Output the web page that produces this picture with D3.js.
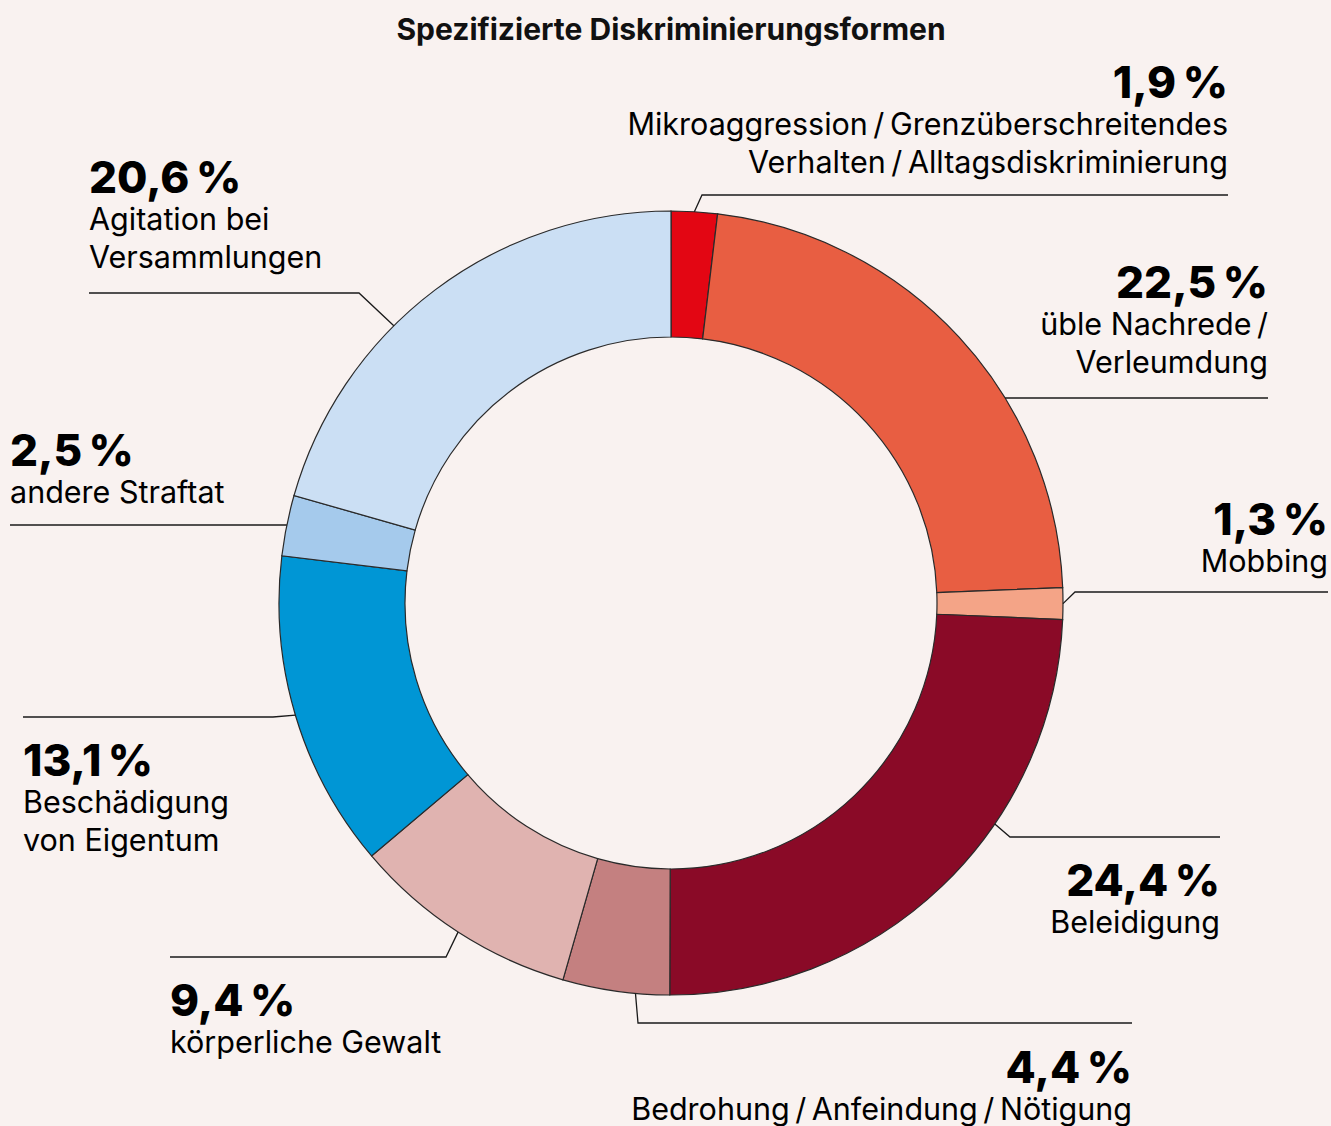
<!DOCTYPE html>
<html>
<head>
<meta charset="utf-8">
<title>Spezifizierte Diskriminierungsformen</title>
<script src="https://cdn.jsdelivr.net/npm/d3@7"></script>
<style>
  body { margin: 0; background: #f9f2f0; }
  svg { display: block; }
  .num { font-family: Inter, "Liberation Sans", sans-serif; font-weight: 800; font-size: 44px; fill: #000; }
  .lbl { font-family: Inter, "Liberation Sans", sans-serif; font-weight: 400; font-size: 30.5px; fill: #000; }
  .title { font-family: Inter, "Liberation Sans", sans-serif; font-weight: 700; font-size: 30px; fill: #111; }
</style>
</head>
<body>
<div id="chart"></div>
<script>
// data, clockwise from 12 o'clock
var categories = [
  "Mikroaggression / Grenzüberschreitendes Verhalten / Alltagsdiskriminierung",
  "üble Nachrede / Verleumdung",
  "Mobbing",
  "Beleidigung",
  "Bedrohung / Anfeindung / Nötigung",
  "körperliche Gewalt",
  "Beschädigung von Eigentum",
  "andere Straftat",
  "Agitation bei Versammlungen"
]
var values = [1.9, 22.5, 1.3, 24.4, 4.4, 9.4, 13.1, 2.5, 20.6]
var valueLabels = ["1,9\u202f%", "22,5\u202f%", "1,3\u202f%", "24,4\u202f%", "4,4\u202f%", "9,4\u202f%", "13,1\u202f%", "2,5\u202f%", "20,6\u202f%"]
// label text broken into lines as in the print version
var labelLines = [
  ["Mikroaggression\u2009/\u2009Grenzüberschreitendes", "Verhalten\u2009/\u2009Alltagsdiskriminierung"],
  ["üble Nachrede\u2009/", "Verleumdung"],
  ["Mobbing"],
  ["Beleidigung"],
  ["Bedrohung\u2009/\u2009Anfeindung\u2009/\u2009Nötigung"],
  ["körperliche Gewalt"],
  ["Beschädigung", "von Eigentum"],
  ["andere Straftat"],
  ["Agitation bei", "Versammlungen"]
]
var colors = ["#e30613", "#e85e42", "#f4a487", "#8a0a27", "#c48080", "#e0b3b0", "#0096d5", "#a5caec", "#cbdff4"]

// label placement (layout only): side, text x, number baseline, leader y, elbow x, leader angle override
var labelLayout = [
  {side: "end",   x: 1228, y: 98,   lineY: 195,  elbow: 702,  angle: null},
  {side: "end",   x: 1268, y: 298,  lineY: 398,  elbow: null, angle: 58.8},
  {side: "end",   x: 1328, y: 535,  lineY: 592,  elbow: 1075, angle: null},
  {side: "end",   x: 1220, y: 896,  lineY: 837,  elbow: 1010, angle: 124.3},
  {side: "end",   x: 1132, y: 1083, lineY: 1023, elbow: 638,  angle: 185.2},
  {side: "start", x: 170,  y: 1016, lineY: 957,  elbow: 446,  angle: null},
  {side: "start", x: 23,   y: 776,  lineY: 717,  elbow: 273,  angle: null},
  {side: "start", x: 10,   y: 466,  lineY: 525,  elbow: null, angle: null},
  {side: "start", x: 89,   y: 193,  lineY: 293,  elbow: 359,  angle: 315}
]

var W = 1331, H = 1126
var cx = 671, cy = 603, rOuter = 392, rInner = 266

var svg = d3.select("#chart").append("svg")
    .attr("width", W).attr("height", H)

svg.append("rect").attr("width", W).attr("height", H).attr("fill", "#f9f2f0")

svg.append("text")
    .attr("class", "title")
    .attr("x", cx).attr("y", 40)
    .attr("text-anchor", "middle")
    .text("Spezifizierte Diskriminierungsformen")

var pie = d3.pie().sort(null).value(function(d){ return d })
var arcs = pie(values)
var arc = d3.arc().innerRadius(rInner).outerRadius(rOuter)

var g = svg.append("g").attr("transform", "translate(" + cx + "," + cy + ")")

g.selectAll("path.slice")
  .data(arcs)
  .enter().append("path")
  .attr("class", "slice")
  .attr("d", arc)
  .attr("fill", function(d,i){ return colors[i] })
  .attr("stroke", "#2a2a2a")
  .attr("stroke-width", 1.2)

// leaders
var deg = Math.PI / 180
function leaderPoint(d, i){
  var L = labelLayout[i]
  var a = L.angle != null ? L.angle * deg : (d.startAngle + d.endAngle) / 2
  if (L.elbow == null) {
    // horizontal line hits the ring directly
    var dy = L.lineY - cy
    var dx = Math.sqrt(rOuter*rOuter - dy*dy) * (L.side == "end" ? 1 : -1)
    return [cx + dx, L.lineY]
  }
  return [cx + rOuter*Math.sin(a), cy - rOuter*Math.cos(a)]
}

svg.selectAll("path.leader")
  .data(arcs)
  .enter().append("path")
  .attr("class", "leader")
  .attr("fill", "none")
  .attr("stroke", "#1a1a1a")
  .attr("stroke-width", 1.3)
  .attr("d", function(d,i){
    var L = labelLayout[i]
    var p = leaderPoint(d, i)
    var ex = L.elbow == null ? p[0] : L.elbow
    return d3.line()([p, [ex, L.lineY], [L.x, L.lineY]])
  })

// labels
var lab = svg.selectAll("g.label")
  .data(arcs)
  .enter().append("g")
  .attr("class", "label")

lab.append("text")
  .attr("class", "num")
  .attr("x", function(d,i){ return labelLayout[i].x })
  .attr("y", function(d,i){ return labelLayout[i].y })
  .attr("text-anchor", function(d,i){ return labelLayout[i].side })
  .text(function(d,i){ return valueLabels[i] })

lab.each(function(d,i){
  var L = labelLayout[i]
  var t = d3.select(this).append("text")
    .attr("class", "lbl")
    .attr("text-anchor", L.side)
  labelLines[i].forEach(function(line, k){
    t.append("tspan")
      .attr("x", L.x)
      .attr("y", L.y + 37 + k*37.5)
      .text(line)
  })
})
</script>
</body>
</html>
